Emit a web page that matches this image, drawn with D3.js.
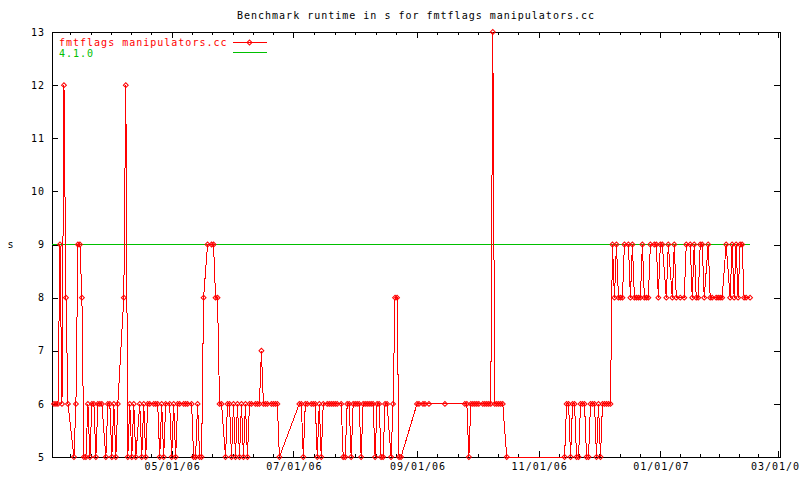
<!DOCTYPE html>
<html><head><meta charset="utf-8">
<script src="https://cdn.jsdelivr.net/npm/d3@7"></script>
<style>
body{margin:0;background:#fff;}
svg{display:block;}
text{font-family:"DejaVu Sans Mono",monospace;font-size:10px;letter-spacing:1px;}
</style></head><body>
<svg id="chart" width="800" height="480"></svg>
<script>
const titleText = "Benchmark runtime in s for fmtflags manipulators.cc";
const seriesName = "fmtflags manipulators.cc";
const baselineName = "4.1.0";
const yLabel = "s";

const dates = [
"2006-03-03","2006-03-04","2006-03-05","2006-03-06","2006-03-07","2006-03-08","2006-03-09","2006-03-10",
"2006-03-13","2006-03-14","2006-03-15","2006-03-16","2006-03-17","2006-03-18","2006-03-19","2006-03-20",
"2006-03-21","2006-03-22","2006-03-23","2006-03-24","2006-03-25","2006-03-26","2006-03-27","2006-03-29",
"2006-03-30","2006-03-31","2006-04-01","2006-04-02","2006-04-03","2006-04-04","2006-04-07","2006-04-08",
"2006-04-09","2006-04-10","2006-04-11","2006-04-12","2006-04-13","2006-04-15","2006-04-16","2006-04-17",
"2006-04-18","2006-04-19","2006-04-20","2006-04-22","2006-04-23","2006-04-24","2006-04-25","2006-04-26",
"2006-04-27","2006-04-28","2006-04-30","2006-05-01","2006-05-02","2006-05-03","2006-05-04","2006-05-05",
"2006-05-07","2006-05-08","2006-05-09","2006-05-11","2006-05-12","2006-05-13","2006-05-14","2006-05-15",
"2006-05-16","2006-05-17","2006-05-19","2006-05-21","2006-05-22","2006-05-23","2006-05-24","2006-05-25",
"2006-05-26","2006-05-28","2006-05-29","2006-05-30","2006-05-31","2006-06-01","2006-06-02","2006-06-03",
"2006-06-04","2006-06-05","2006-06-06","2006-06-07","2006-06-08","2006-06-09","2006-06-10","2006-06-12",
"2006-06-13","2006-06-14","2006-06-15","2006-06-16","2006-06-17","2006-06-18","2006-06-20","2006-06-21",
"2006-06-22","2006-06-23","2006-06-24",
"2006-07-04","2006-07-05","2006-07-06","2006-07-07","2006-07-08","2006-07-10","2006-07-11","2006-07-12",
"2006-07-13","2006-07-14","2006-07-15","2006-07-16","2006-07-18","2006-07-19","2006-07-20","2006-07-21",
"2006-07-22","2006-07-23","2006-07-25","2006-07-26","2006-07-27","2006-07-28","2006-07-29","2006-07-30",
"2006-07-31","2006-08-01","2006-08-02","2006-08-03","2006-08-04","2006-08-05","2006-08-06","2006-08-07",
"2006-08-08","2006-08-09","2006-08-10","2006-08-11","2006-08-12","2006-08-13","2006-08-14","2006-08-15",
"2006-08-16","2006-08-17","2006-08-19","2006-08-20","2006-08-21","2006-08-22","2006-08-23","2006-08-24",
"2006-09-01","2006-09-02","2006-09-04","2006-09-05","2006-09-07","2006-09-15",
"2006-09-25","2006-09-26","2006-09-27","2006-09-28","2006-09-29","2006-09-30","2006-10-01","2006-10-02",
"2006-10-04","2006-10-05","2006-10-06","2006-10-07","2006-10-08","2006-10-09","2006-10-10","2006-10-11",
"2006-10-12","2006-10-13","2006-10-14","2006-10-16",
"2006-11-14","2006-11-15","2006-11-16","2006-11-17","2006-11-18","2006-11-19","2006-11-20","2006-11-21",
"2006-11-22","2006-11-23","2006-11-24","2006-11-25","2006-11-26","2006-11-27","2006-11-28","2006-11-29",
"2006-11-30","2006-12-01","2006-12-02","2006-12-03","2006-12-04","2006-12-05","2006-12-06","2006-12-07",
"2006-12-08","2006-12-09","2006-12-10","2006-12-11","2006-12-12","2006-12-13","2006-12-14","2006-12-16",
"2006-12-17","2006-12-18","2006-12-19","2006-12-20","2006-12-21","2006-12-22","2006-12-23","2006-12-24",
"2006-12-25","2006-12-26","2006-12-27","2006-12-29","2006-12-30","2006-12-31","2007-01-01","2007-01-02",
"2007-01-04","2007-01-05","2007-01-07","2007-01-08","2007-01-09","2007-01-11","2007-01-13","2007-01-14",
"2007-01-16","2007-01-17","2007-01-18","2007-01-19","2007-01-20","2007-01-21","2007-01-22","2007-01-23",
"2007-01-25","2007-01-26","2007-01-27","2007-01-29","2007-01-30","2007-01-31","2007-02-01","2007-02-03",
"2007-02-05","2007-02-06","2007-02-07","2007-02-08","2007-02-09","2007-02-10","2007-02-11","2007-02-12",
"2007-02-13","2007-02-15"
];

const runtimes = [
6,6,6,9,6,12,8,6,
5,6,9,9,8,5,5,6,
5,6,6,5,6,6,6,5,
6,6,5,6,5,6,8,12,
5,6,5,6,5,6,5,6,
5,6,6,6,6,6,5,6,
5,6,6,5,6,5,6,6,
6,6,6,6,5,5,6,5,
5,8,9,9,9,8,8,6,
6,5,6,6,5,6,5,6,
5,6,5,6,5,6,6,6,
6,6,7,6,6,6,6,6,
6,6,5,
6,6,5,6,6,6,6,6,
5,6,5,6,6,6,6,6,
6,6,6,5,5,6,6,5,
6,6,6,6,5,6,6,6,
6,6,6,5,6,6,5,5,
6,6,5,6,8,8,5,5,
6,6,6,6,6,6,
6,6,5,6,6,6,6,6,
6,6,6,6,6,13,6,6,
6,6,6,5,
5,6,6,5,6,6,5,5,
6,6,6,5,5,6,6,6,
5,6,5,6,6,6,6,6,
9,8,9,8,8,8,9,9,
8,9,8,8,8,8,9,8,
8,8,9,9,9,8,9,9,
8,9,8,9,8,8,8,9,
9,8,9,8,8,9,9,8,
9,8,8,8,8,8,8,9,
8,9,8,9,8,9,9,8,
8,8
];

const baselineDates = ["2006-03-02","2007-02-15"];
const baselineValues = [9,9];

const xDomain = ["2006-03-02","2007-03-02"];
const yDomain = [5,13];
const yTickValues = [5,6,7,8,9,10,11,12,13];
const xMajorDates = ["2006-03-01","2006-05-01","2006-07-01","2006-09-01","2006-11-01","2007-01-01","2007-03-01"];

const parse = d3.timeParse("%Y-%m-%d");
const fmt = d3.timeFormat("%m/%d/%y");

const L = 52, R = 780, T = 32, B = 457;
const x = d3.scaleTime().domain(xDomain.map(parse)).range([L, R]);
const y = d3.scaleLinear().domain(yDomain).range([B, T]);

const svg = d3.select("#chart");
svg.append("rect").attr("width",800).attr("height",480).attr("fill","#fff");

// ticks
const majors = xMajorDates.map(parse);
const inDom = d => d >= x.domain()[0] && d <= x.domain()[1];
const majorsIn = majors.filter(inDom);
const minors = [];
for (let i = 0; i < majors.length - 1; i++) {
  const a = +majors[i], b = +majors[i+1];
  for (let k = 1; k < 6; k++) minors.push(new Date(a + (b - a) * k / 6));
}
const minorsIn = minors.filter(inDom);

function clean(g){ g.select(".domain").remove(); g.selectAll("line").attr("stroke","#000").attr("shape-rendering","crispEdges"); }

svg.append("g").attr("transform",`translate(0,${B})`)
  .call(d3.axisBottom(x).tickValues(majorsIn).tickSizeInner(-6).tickSizeOuter(0).tickPadding(6).tickFormat(fmt))
  .call(clean)
  .call(g => g.selectAll("text").attr("fill","#000").attr("font-size",null).attr("font-family",null).attr("dx","0.5"));
svg.append("g").attr("transform",`translate(0,${B})`)
  .call(d3.axisBottom(x).tickValues(minorsIn).tickSizeInner(-3).tickSizeOuter(0).tickFormat(""))
  .call(clean);
svg.append("g").attr("transform",`translate(0,${T})`)
  .call(d3.axisTop(x).tickValues(majorsIn).tickSizeInner(-6).tickSizeOuter(0).tickFormat(""))
  .call(clean);
svg.append("g").attr("transform",`translate(0,${T})`)
  .call(d3.axisTop(x).tickValues(minorsIn).tickSizeInner(-3).tickSizeOuter(0).tickFormat(""))
  .call(clean);
svg.append("g").attr("transform",`translate(${L},0)`)
  .call(d3.axisLeft(y).tickValues(yTickValues).tickSizeInner(-6).tickSizeOuter(0).tickPadding(8).tickFormat(d3.format("d")))
  .call(clean)
  .call(g => g.selectAll("text").attr("fill","#000").attr("font-size",null).attr("font-family",null).attr("dx","1"));
svg.append("g").attr("transform",`translate(${R},0)`)
  .call(d3.axisRight(y).tickValues(yTickValues).tickSizeInner(-6).tickSizeOuter(0).tickFormat(""))
  .call(clean);

// border
svg.append("rect").attr("x",L).attr("y",T).attr("width",R-L).attr("height",B-T)
  .attr("fill","none").attr("stroke","#000").attr("shape-rendering","crispEdges");

// title & labels
svg.append("text").attr("x",(L+R)/2).attr("y",19).attr("text-anchor","middle").text(titleText);
svg.append("text").attr("x",11).attr("y",248).attr("text-anchor","middle").text(yLabel);

// data
const data = dates.map((d,i)=>({date:parse(d), v:runtimes[i]}));
const base = baselineDates.map((d,i)=>({date:parse(d), v:baselineValues[i]}));
const line = d3.line().x(d=>x(d.date)).y(d=>y(d.v));

svg.append("path").datum(base).attr("d",line).attr("fill","none").attr("stroke","#00c000").attr("stroke-width",1).attr("shape-rendering","crispEdges");
svg.append("path").datum(data).attr("d",line).attr("fill","none").attr("stroke","#ff0000").attr("stroke-width",1).attr("shape-rendering","crispEdges");

const diamond = d3.symbol().type(d3.symbolSquare).size(12);
svg.append("g").selectAll("path").data(data).join("path")
  .attr("d",diamond)
  .attr("transform",d=>`translate(${x(d.date)},${y(d.v)}) rotate(45)`)
  .attr("fill","none").attr("stroke","#ff0000").attr("stroke-width",1);

// legend
const lg = svg.append("g");
lg.append("text").attr("x",59).attr("y",46).attr("fill","#ff0000").text(seriesName);
lg.append("line").attr("x1",233).attr("x2",267).attr("y1",42.5).attr("y2",42.5).attr("stroke","#ff0000").attr("shape-rendering","crispEdges");
lg.append("path").attr("d",diamond).attr("transform","translate(249.5,42.5) rotate(45)").attr("fill","none").attr("stroke","#ff0000");
lg.append("text").attr("x",59).attr("y",56.5).attr("fill","#00c000").text(baselineName);
lg.append("line").attr("x1",233).attr("x2",267).attr("y1",52.5).attr("y2",52.5).attr("stroke","#00c000").attr("shape-rendering","crispEdges");
</script>
</body></html>
